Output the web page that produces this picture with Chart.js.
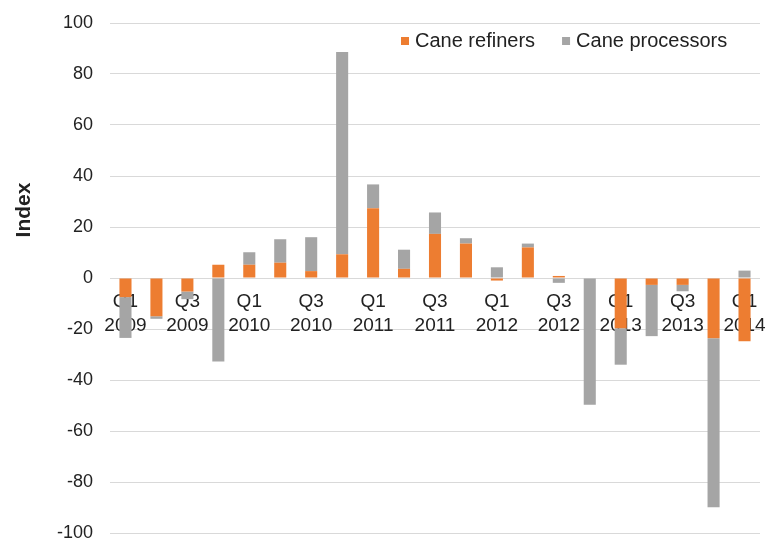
<!DOCTYPE html>
<html>
<head>
<meta charset="utf-8">
<script src="https://cdn.jsdelivr.net/npm/chart.js@4"></script>
<style>
  body { margin: 0; background: #fff; }
  canvas { display: block; }
</style>
</head>
<body>
<canvas id="grafico" width="767" height="541"></canvas>
<script>
// quarters, Q1 2009 .. Q1 2014
var trimestres = ['Q1 2009', 'Q2 2009', 'Q3 2009', 'Q4 2009',
                  'Q1 2010', 'Q2 2010', 'Q3 2010', 'Q4 2010',
                  'Q1 2011', 'Q2 2011', 'Q3 2011', 'Q4 2011',
                  'Q1 2012', 'Q2 2012', 'Q3 2012', 'Q4 2012',
                  'Q1 2013', 'Q2 2013', 'Q3 2013', 'Q4 2013',
                  'Q1 2014'];
var refinadores = [-7.5, -15, -5.3, 5.2, 5.2, 6.0, 2.7, 9.3, 27.4, 3.6, 17.3,
                   13.5, -1.0, 12.0, 0.8, 0, -19.7, -2.7, -2.7, -23.6, -24.8];
var processadores = [-16, -1, -3, -32.7, 4.9, 9.2, 13.3, 79.3, 9.3, 7.5, 8.4,
                     2.1, 4.2, 1.5, -1.9, -49.7, -14.3, -20.1, -2.5, -66.3, 2.9];
var rotulosY = { min: -100, max: 100, passo: 20 };

var fonte = 'Liberation Sans, Arial, sans-serif';
Chart.defaults.font.family = fonte;
Chart.defaults.color = '#222';

// legend inside the plot (one row, top right) and the "Index" title, placed like the Excel original
var legendaDentro = {
    id: 'legendaDentro',
    afterDraw: function (chart) {
        var c = chart.ctx;
        var x = 401, y = 41;
        c.save();
        c.font = '20px ' + fonte;
        c.textBaseline = 'middle';
        chart.data.datasets.forEach(function (ds) {
            c.fillStyle = ds.backgroundColor;
            c.fillRect(x, y - 4, 8, 8);
            c.fillStyle = '#222';
            c.fillText(ds.label, x + 14, y);
            x += 14 + c.measureText(ds.label).width + 27;
        });
        // axis title
        c.translate(24, 210);
        c.rotate(-Math.PI / 2);
        c.textAlign = 'center';
        c.font = 'bold 21px ' + fonte;
        c.fillText('Index', 0, 0);
        c.restore();
    }
};

var ctx = document.getElementById('grafico').getContext('2d');
var chart = new Chart(ctx, {
    type: 'bar',
    data: {
        labels: trimestres,
        datasets: [{
            label: 'Cane refiners',
            backgroundColor: '#ED7D31',
            data: refinadores
        }, {
            label: 'Cane processors',
            backgroundColor: '#A5A5A5',
            data: processadores
        }]
    },
    plugins: [legendaDentro],
    options: {
        responsive: false,
        animation: false,
        layout: { padding: { top: 23, bottom: 8, right: 7, left: 0 } },
        datasets: { bar: { categoryPercentage: 1, barPercentage: 0.39 } },
        plugins: {
            tooltip: { enabled: false },
            legend: { display: false }
        },
        scales: {
            x: {
                stacked: true,
                position: { y: 0 },
                z: 1, // labels on top of the bars
                grid: { display: false, drawTicks: false },
                border: { display: false },
                ticks: {
                    autoSkip: false, maxRotation: 0, minRotation: 0,
                    padding: 11,
                    font: { size: 19, lineHeight: 1.3 },
                    callback: function (v, i) {
                        return i % 2 === 0 ? trimestres[i].split(' ') : '';
                    }
                },
                afterFit: function (s) {
                    s.height = 0; s.paddingLeft = 0; s.paddingRight = 0;
                }
            },
            y: {
                stacked: true,
                min: rotulosY.min, max: rotulosY.max,
                grid: { color: '#d9d9d9', drawTicks: false },
                border: { display: false },
                ticks: { stepSize: rotulosY.passo, padding: 17, font: { size: 18 } },
                afterFit: function (s) {
                    s.width = 110; s.paddingTop = 0; s.paddingBottom = 0;
                }
            }
        }
    }
});
</script>
</body>
</html>
